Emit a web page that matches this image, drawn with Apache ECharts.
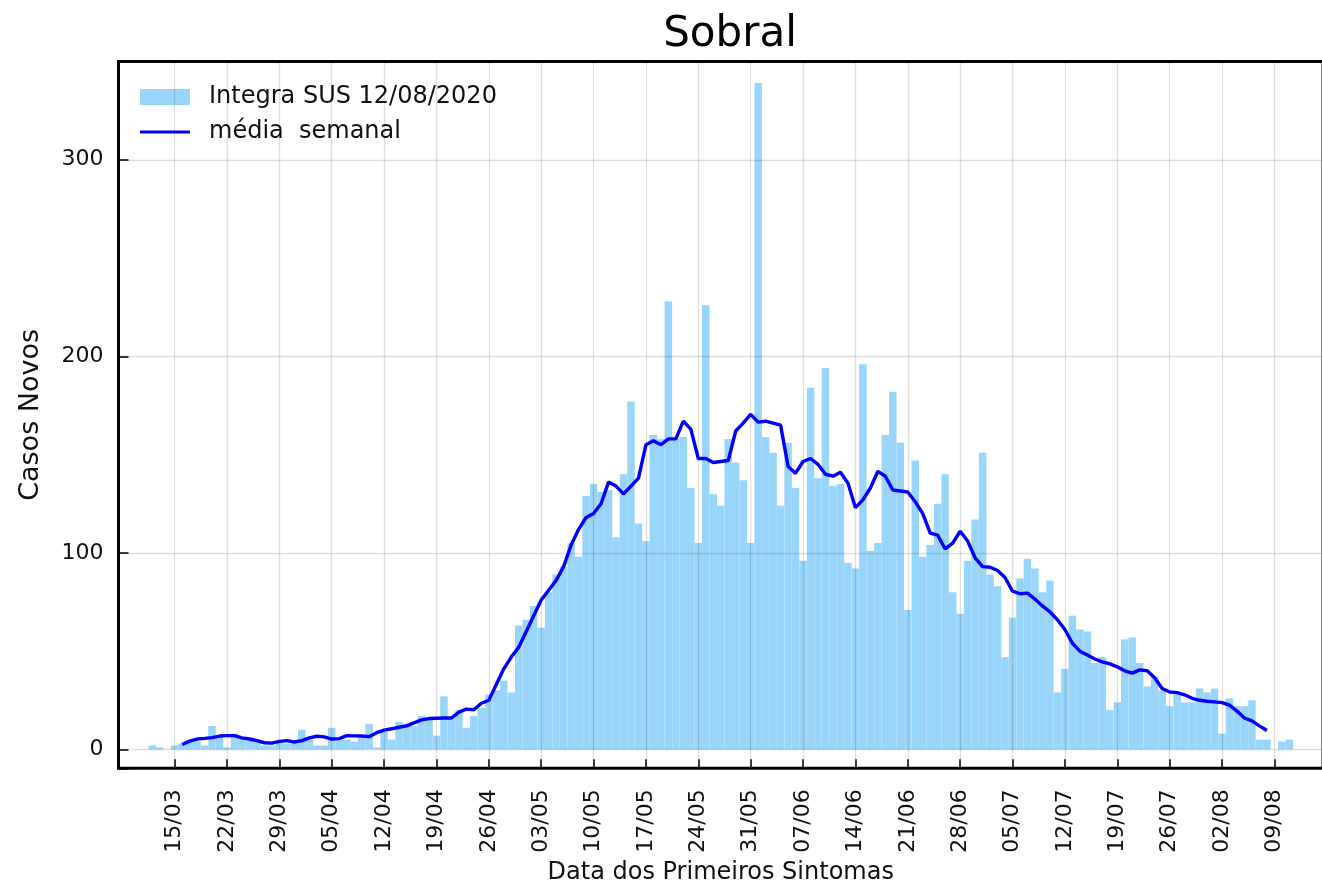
<!DOCTYPE html>
<html>
<head>
<meta charset="utf-8">
<script src="https://cdn.jsdelivr.net/npm/echarts@6/dist/echarts.min.js"></script>
<style>
html, body { margin: 0; padding: 0; background: #fff; }
#chart { width: 1322px; height: 887px; }
</style>
</head>
<body>
<div id="chart"></div>
<script>
// eixo diário de 08/03 a 15/08 (2020)
const totalDias = 161;
const dias = [];
for (let i = 0; i < totalDias; i++) {
  const d = new Date(2020, 2, 8 + i);
  dias.push(String(d.getDate()).padStart(2, '0') + '/' + String(d.getMonth() + 1).padStart(2, '0'));
}

const rotulosX = ['15/03', '22/03', '29/03', '05/04', '12/04', '19/04', '26/04', '03/05',
  '10/05', '17/05', '24/05', '31/05', '07/06', '14/06', '21/06', '28/06', '05/07',
  '12/07', '19/07', '26/07', '02/08', '09/08'];
const marcasY = [0, 100, 200, 300];

// casos novos por dia, a partir de 12/03
const inicioCasos = '12/03';
const casosDiarios = [
  2, 1, 0, 2, 3, 4, 4,
  2, 12, 7, 1, 8, 6, 6,
  5, 2, 2, 4, 3, 3, 10,
  5, 2, 2, 11, 5, 5, 4,
  6, 13, 1, 9, 5, 14, 13,
  12, 17, 15, 7, 27, 16, 20,
  11, 17, 21, 28, 30, 35, 29,
  63, 66, 73, 62, 80, 89, 93,
  105, 98, 129, 135, 131, 132, 108,
  140, 177, 115, 106, 160, 158, 228,
  158, 159, 133, 105, 226, 130, 124,
  158, 146, 137, 105, 339, 159, 151,
  124, 156, 133, 96, 184, 138, 194,
  134, 135, 95, 92, 196, 101, 105,
  160, 182, 156, 71, 147, 98, 104,
  125, 140, 80, 69, 96, 117, 151,
  89, 83, 47, 67, 87, 97, 92,
  80, 86, 29, 41, 68, 61, 60,
  44, 47, 20, 24, 56, 57, 44,
  32, 37, 30, 22, 28, 24, 24,
  31, 29, 31, 8, 26, 22, 22,
  25, 5, 5, 0, 4, 5
];

// média semanal, a partir de 16/03
const inicioMedia = '16/03';
const mediaSemanal = [
  2.5, 4.2, 5.3, 5.6, 6.0, 6.8, 7.0,
  7.0, 5.9, 5.3, 4.5, 3.4, 3.2, 4.1,
  4.5, 3.8, 4.5, 5.9, 6.7, 6.4, 5.3,
  5.5, 7.0, 6.9, 6.8, 6.5, 8.5, 9.8,
  10.5, 11.3, 12.0, 13.5, 15.0, 15.7, 15.9,
  16.0, 16.0, 19.0, 20.5, 20.2, 23.5, 25.0,
  33, 41, 47, 52, 60, 68, 76,
  81, 86, 93, 104, 112, 118, 120,
  125, 136, 134, 130, 134, 138, 155,
  157, 155, 158, 158, 167, 163, 148,
  148, 146, 146.5, 147, 162, 166, 170.5,
  166.5, 167, 166, 165, 144, 140.5, 146.5,
  148, 145, 140, 139, 141, 135.5, 123,
  127, 133, 141.5, 139, 132, 131.5, 131,
  126, 120, 110, 109, 102, 105, 111,
  106, 97.5, 93, 92.7, 91, 87.5, 80.5,
  79.2, 79.5, 76.5, 73, 70, 66, 61,
  54, 50, 48, 46, 44.5, 43.5, 42,
  40, 38.8, 40.5, 40, 36.5, 31, 29.2,
  28.9, 27.8, 26, 25, 24.5, 24.2, 23.8,
  22.5, 19.5, 16, 14.5, 12, 9.6
];

function alinhar(inicio, valores) {
  const out = dias.map(() => null);
  const k = dias.indexOf(inicio);
  valores.forEach((v, i) => { out[k + i] = v; });
  return out;
}

const fonte = 'DejaVu Sans';
const corBarra = '#99d5fa';
const corGrade = 'rgba(0,0,0,0.13)';
const mostraRotulo = (idx, val) => rotulosX.includes(val);

const chart = echarts.init(document.getElementById('chart'));
chart.setOption({
  animation: false,
  textStyle: { fontFamily: fonte },
  title: {
    text: 'Sobral',
    left: 725,
    textAlign: 'center',
    top: 9,
    textStyle: { fontFamily: fonte, fontSize: 42, fontWeight: 'normal', color: '#000' }
  },
  legend: {
    orient: 'vertical',
    left: 140,
    top: 85,
    padding: 0,
    itemWidth: 50,
    itemHeight: 16,
    itemGap: 11,
    textStyle: { fontFamily: fonte, fontSize: 24, color: '#111', padding: [0, 0, 0, 14] },
    data: [
      { name: 'Integra SUS 12/08/2020', icon: 'rect' },
      { name: 'média  semanal', icon: 'path://M0,0h50v3h-50z' }
    ]
  },
  grid: {
    left: 118.5,
    right: -1,
    top: 61.5,
    bottom: 118.7,
    containLabel: false,
    outerBoundsMode: 'none',
    show: true,
    borderColor: '#000',
    borderWidth: 3,
    backgroundColor: 'transparent'
  },
  xAxis: {
    type: 'category',
    data: dias,
    boundaryGap: true,
    axisLine: { show: false, onZero: false },
    axisTick: {
      show: true, inside: true, length: 9, alignWithLabel: true,
      interval: mostraRotulo,
      lineStyle: { color: '#000', width: 1.5 }
    },
    axisLabel: {
      interval: mostraRotulo,
      rotate: 90,
      margin: 21,
      fontFamily: fonte,
      fontSize: 22,
      color: '#111'
    },
    splitLine: { show: false },
    name: 'Data dos Primeiros Sintomas',
    nameLocation: 'middle',
    nameGap: 92,
    nameTextStyle: { fontFamily: fonte, fontSize: 24, color: '#111' }
  },
  yAxis: {
    type: 'value',
    min: -9.6,
    max: 350,
    splitNumber: 4,
    axisLine: { show: false, onZero: false },
    axisTick: { show: true, inside: true, length: 10, lineStyle: { color: '#000', width: 1.5 } },
    axisLabel: {
      formatter: v => (marcasY.includes(v) ? String(v) : ''),
      margin: 15,
      fontFamily: fonte,
      fontSize: 22,
      color: '#111'
    },
    splitLine: { show: false },
    name: 'Casos Novos',
    nameLocation: 'middle',
    nameGap: 74,
    nameTextStyle: { fontFamily: fonte, fontSize: 27, color: '#111' }
  },
  series: [
    {
      name: 'Integra SUS 12/08/2020',
      type: 'bar',
      data: alinhar(inicioCasos, casosDiarios),
      barCategoryGap: '0%',
      itemStyle: { color: corBarra },
      emphasis: { disabled: true },
      markLine: {
        silent: true,
        symbol: 'none',
        label: { show: false },
        lineStyle: { color: corGrade, width: 1.3, type: 'solid' },
        emphasis: { disabled: true },
        data: rotulosX.map(v => ({ xAxis: v })).concat(marcasY.map(v => ({ yAxis: v })))
      }
    },
    {
      name: 'média  semanal',
      type: 'line',
      z: 6,
      data: alinhar(inicioMedia, mediaSemanal),
      showSymbol: false,
      connectNulls: false,
      itemStyle: { color: '#0000ff' },
      lineStyle: { color: '#0000ff', width: 3.4 },
      emphasis: { disabled: true }
    }
  ]
});
</script>
</body>
</html>
